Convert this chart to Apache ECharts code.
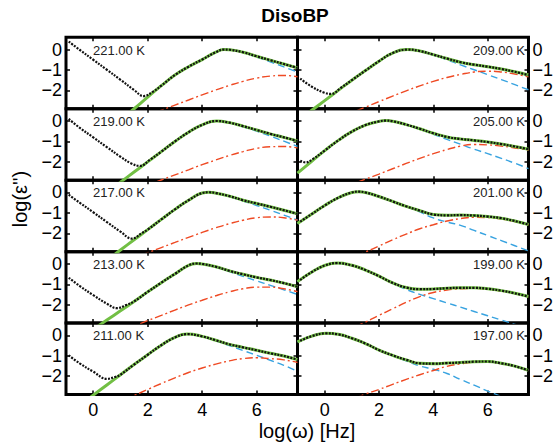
<!DOCTYPE html>
<html><head><meta charset="utf-8">
<script src="https://cdn.jsdelivr.net/npm/echarts@6/dist/echarts.min.js"></script>
<style>html,body{margin:0;padding:0;background:#fff}#c{width:556px;height:447px}</style>
</head><body><div id="c"></div>
<script>
// log(omega) sample positions shared by fit / alpha / beta curves
const X = [-1,-0.5,0,0.5,1,1.5,2,2.5,3,3.5,4,4.5,5,5.5,6,6.5,7,7.5];
const xTicks = [0,2,4,6];
const yTicks = [-2,-1,0];
const temperatures = ['221.00 K','209.00 K','219.00 K','205.00 K','217.00 K','201.00 K','213.00 K','199.00 K','211.00 K','197.00 K'];

// 221 K
const fit221   = [-5.65,-5.1,-4.55,-4.0,-3.45,-2.9,-2.33,-1.77,-1.25,-0.84,-0.49,-0.13,-0.01,-0.13,-0.33,-0.52,-0.71,-0.90];
const alpha221 = [-5.65,-5.1,-4.55,-4.0,-3.45,-2.9,-2.33,-1.77,-1.25,-0.85,-0.5,-0.14,-0.02,-0.15,-0.37,-0.6,-0.85,-1.1];
const beta221  = [-4.72,-4.47,-4.22,-3.97,-3.72,-3.47,-3.22,-2.97,-2.72,-2.47,-2.22,-1.98,-1.76,-1.56,-1.40,-1.30,-1.27,-1.33];
const low221   = [[-0.9,0.39],[-0.5,-0.01],[0,-0.5],[0.5,-0.99],[1.0,-1.48],[1.5,-1.98],[1.85,-2.28],[2.2,-2.06]];
const peak221  = [4.8, 0.0];
// 209 K
const fit209   = [-3.5,-3.0,-2.5,-2.0,-1.5,-1.03,-0.57,-0.17,0.0,-0.07,-0.25,-0.44,-0.62,-0.74,-0.84,-0.95,-1.09,-1.25];
const alpha209 = [-3.5,-3.0,-2.5,-2.0,-1.5,-1.03,-0.57,-0.18,0.0,-0.08,-0.27,-0.5,-0.75,-0.99,-1.23,-1.47,-1.72,-1.97];
const beta209  = [-4.22,-3.94,-3.66,-3.38,-3.1,-2.82,-2.55,-2.28,-2.02,-1.78,-1.56,-1.37,-1.22,-1.1,-1.06,-1.1,-1.2,-1.34];
const low209   = [[-0.9,-1.42],[-0.5,-1.8],[0,-2.12],[0.25,-2.17],[0.6,-1.87]];
const peak209  = [3.05, 0.0];
// 219 K
const fit219   = [-5.0,-4.5,-4.0,-3.5,-3.0,-2.5,-2.0,-1.5,-1.0,-0.55,-0.19,0.0,-0.08,-0.25,-0.44,-0.63,-0.80,-0.98];
const alpha219 = [-5.0,-4.5,-4.0,-3.5,-3.0,-2.5,-2.0,-1.5,-1.0,-0.55,-0.2,0.0,-0.09,-0.28,-0.5,-0.74,-0.99,-1.24];
const beta219  = [-4.64,-4.39,-4.14,-3.89,-3.64,-3.39,-3.14,-2.89,-2.64,-2.39,-2.14,-1.91,-1.69,-1.50,-1.34,-1.26,-1.25,-1.32];
const low219   = [[-0.9,0.1],[-0.5,-0.33],[0,-0.8],[0.5,-1.28],[1.0,-1.75],[1.4,-2.08],[1.72,-2.2],[2.1,-1.88]];
const peak219  = [4.53, 0.0];
// 205 K
const fit205   = [-2.55,-2.0,-1.45,-0.95,-0.52,-0.2,-0.02,-0.01,-0.175,-0.38,-0.6,-0.78,-0.88,-0.95,-1.03,-1.13,-1.25,-1.38];
const alpha205 = [-2.55,-2.0,-1.45,-0.95,-0.52,-0.2,-0.02,-0.01,-0.18,-0.4,-0.65,-0.9,-1.14,-1.38,-1.6,-1.83,-2.07,-2.33];
const beta205  = [-4.1,-3.85,-3.6,-3.35,-3.1,-2.85,-2.6,-2.34,-2.08,-1.83,-1.6,-1.4,-1.23,-1.15,-1.17,-1.23,-1.32,-1.43];
const low205   = [[-0.9,-1.95],[-0.7,-2.03],[-0.45,-1.88]];
const peak205  = [2.25, 0.02];
// 217 K
const fit217   = [-4.82,-4.32,-3.82,-3.32,-2.82,-2.32,-1.82,-1.32,-0.83,-0.38,-0.03,-0.03,-0.18,-0.38,-0.54,-0.70,-0.87,-1.05];
const alpha217 = [-4.82,-4.32,-3.82,-3.32,-2.82,-2.32,-1.82,-1.32,-0.83,-0.39,-0.04,-0.04,-0.2,-0.42,-0.64,-0.87,-1.11,-1.35];
const beta217  = [-4.45,-4.2,-3.95,-3.7,-3.45,-3.2,-2.95,-2.7,-2.45,-2.2,-1.96,-1.73,-1.53,-1.36,-1.24,-1.2,-1.24,-1.36];
const low217   = [[-0.9,-0.11],[-0.5,-0.5],[0,-0.97],[0.5,-1.45],[1.0,-1.92],[1.42,-2.26],[1.8,-1.98]];
const peak217  = [4.25, 0.01];
// 201 K
const fit201   = [-1.52,-1.08,-0.64,-0.26,0.0,0.0,-0.2,-0.44,-0.68,-0.89,-1.08,-1.12,-1.11,-1.13,-1.18,-1.26,-1.40,-1.57];
const alpha201 = [-1.52,-1.08,-0.64,-0.26,0.0,0.0,-0.2,-0.44,-0.69,-0.95,-1.25,-1.45,-1.61,-1.86,-2.11,-2.36,-2.61,-2.86];
const beta201  = [-4.4,-4.1,-3.8,-3.5,-3.2,-2.92,-2.62,-2.32,-2.04,-1.78,-1.58,-1.4,-1.28,-1.22,-1.23,-1.3,-1.43,-1.59];
const low201   = [[-0.9,-1.43]];
const peak201  = [1.25, 0.04];
// 213 K
const fit213   = [-4.1,-3.65,-3.2,-2.75,-2.3,-1.84,-1.37,-0.92,-0.49,-0.07,0.0,-0.14,-0.34,-0.51,-0.66,-0.79,-0.94,-1.12];
const alpha213 = [-4.1,-3.65,-3.2,-2.75,-2.3,-1.84,-1.38,-0.93,-0.5,-0.08,-0.01,-0.16,-0.38,-0.61,-0.83,-1.05,-1.27,-1.5];
const beta213  = [-4.4,-4.13,-3.86,-3.59,-3.32,-3.05,-2.78,-2.52,-2.26,-2.01,-1.78,-1.56,-1.37,-1.22,-1.14,-1.14,-1.22,-1.36];
const low213   = [[-0.9,-0.68],[-0.5,-1.08],[0,-1.53],[0.5,-1.95],[0.87,-2.17],[1.2,-2.02]];
const peak213  = [3.8, 0.02];
// 199 K
const fit199   = [-0.87,-0.42,-0.08,0.03,-0.07,-0.3,-0.6,-0.93,-1.16,-1.24,-1.23,-1.19,-1.17,-1.17,-1.22,-1.31,-1.44,-1.6];
const alpha199 = [-0.87,-0.42,-0.08,0.03,-0.07,-0.3,-0.6,-0.95,-1.25,-1.49,-1.7,-1.91,-2.12,-2.33,-2.54,-2.75,-2.96,-3.17];
const beta199  = [-4.4,-4.05,-3.75,-3.45,-3.15,-2.85,-2.52,-2.2,-1.88,-1.6,-1.4,-1.28,-1.22,-1.2,-1.24,-1.33,-1.45,-1.61];
const low199   = [[-0.9,-0.79]];
const peak199  = [0.45, 0.04];
// 211 K
const fit211   = [-3.93,-3.43,-2.93,-2.43,-1.93,-1.43,-0.95,-0.48,-0.1,0.04,-0.05,-0.24,-0.44,-0.59,-0.73,-0.88,-1.01,-1.19];
const alpha211 = [-3.93,-3.43,-2.93,-2.43,-1.93,-1.43,-0.95,-0.48,-0.11,0.03,-0.06,-0.27,-0.5,-0.74,-0.98,-1.22,-1.47,-1.76];
const beta211  = [-4.45,-4.15,-3.85,-3.55,-3.25,-2.95,-2.65,-2.36,-2.08,-1.82,-1.6,-1.41,-1.25,-1.14,-1.1,-1.14,-1.2,-1.33];
const low211   = [[-0.9,-0.98],[-0.5,-1.37],[0,-1.78],[0.5,-2.13],[0.8,-2.04]];
const peak211  = [3.45, 0.06];
// 197 K
const fit197   = [-0.32,-0.05,0.1,0.05,-0.14,-0.4,-0.72,-0.98,-1.2,-1.37,-1.39,-1.36,-1.33,-1.29,-1.28,-1.37,-1.51,-1.72];
const alpha197 = [-0.32,-0.05,0.1,0.05,-0.14,-0.4,-0.72,-1.0,-1.25,-1.5,-1.66,-1.87,-2.16,-2.44,-2.73,-3.0,-3.3,-3.6];
const beta197  = [-4.3,-3.95,-3.65,-3.4,-3.15,-2.88,-2.65,-2.4,-2.16,-1.93,-1.72,-1.52,-1.4,-1.32,-1.3,-1.38,-1.52,-1.72];
const low197   = [[-0.9,-0.27]];
const peak197  = [0.05, 0.1];

const panels = [
  [fit221,alpha221,beta221,low221,peak221],[fit209,alpha209,beta209,low209,peak209],
  [fit219,alpha219,beta219,low219,peak219],[fit205,alpha205,beta205,low205,peak205],
  [fit217,alpha217,beta217,low217,peak217],[fit201,alpha201,beta201,low201,peak201],
  [fit213,alpha213,beta213,low213,peak213],[fit199,alpha199,beta199,low199,peak199],
  [fit211,alpha211,beta211,low211,peak211],[fit197,alpha197,beta197,low197,peak197]
];

const FONT = '"Liberation Sans", Arial, Helvetica, sans-serif';
const GREEN = '#72bf44', RED = '#ef4a24', BLUE = '#38a3e0';
const colLeft = [66, 297.5], colW = 231.5, top0 = 37.3, rowH = 71.45;
const minus = v => (v < 0 ? '\u2212' + Math.abs(v) : String(v));
const pairs = ys => X.map((x, i) => [x, ys[i]]);
// add the read peak position of a curve to its sampled points
const withPeak = (ys, pk) => pairs(ys).filter(q => Math.abs(q[0] - pk[0]) > 0.12).concat([pk]).sort((a, b) => a[0] - b[0]);

const grid = [], xAxis = [], yAxis = [], series = [], graphic = [];
panels.forEach((p, i) => {
  const row = Math.floor(i / 2), col = i % 2;
  const top = top0 + row * rowH;
  grid.push({left: colLeft[col], top: top, width: colW, height: rowH, show: true,
    borderColor: '#000', borderWidth: 3, backgroundColor: 'rgba(0,0,0,0)', containLabel: false});
  const noLine = {show: false, onZero: false};
  const tickStyle = {show: true, inside: true, length: 4, customValues: xTicks, lineStyle: {color: '#000', width: 1.5}};
  xAxis.push({gridIndex: i, type: 'value', min: -1, max: 7.5, position: 'bottom',
    axisLine: noLine, splitLine: {show: false}, axisTick: tickStyle,
    axisLabel: {show: row === 4, customValues: xTicks, fontSize: 18, color: '#000', margin: 6, fontFamily: FONT, formatter: minus}});
  xAxis.push({gridIndex: i, type: 'value', min: -1, max: 7.5, position: 'top',
    axisLine: noLine, splitLine: {show: false}, axisTick: tickStyle, axisLabel: {show: false}});
  const yTick = {show: true, inside: true, length: 4, customValues: yTicks, lineStyle: {color: '#000', width: 1.5}};
  yAxis.push({gridIndex: i, type: 'value', min: -2.9, max: 0.6, position: 'left',
    axisLine: noLine, splitLine: {show: false}, axisTick: yTick,
    axisLabel: {show: col === 0, customValues: yTicks, fontSize: 18, color: '#000', margin: 4, fontFamily: FONT, formatter: minus}});
  yAxis.push({gridIndex: i, type: 'value', min: -2.9, max: 0.6, position: 'right',
    axisLine: noLine, splitLine: {show: false}, axisTick: yTick,
    axisLabel: {show: col === 1, customValues: yTicks, fontSize: 18, color: '#000', margin: 4, fontFamily: FONT, formatter: minus}});

  const [fit, alpha, beta, low, peak] = p;
  const fitPts = withPeak(fit, peak);
  const alphaPts = withPeak(alpha, [peak[0], peak[1] - 0.01]);
  const lastLow = low[low.length - 1][0];
  const black = low.concat(fitPts.filter(q => q[0] > lastLow + 0.15));
  const base = {type: 'line', xAxisIndex: 2 * i, yAxisIndex: 2 * i, showSymbol: false, silent: true,
    smooth: 0.5, clip: true, animation: false};
  series.push(Object.assign({}, base, {data: alphaPts, z: 2,
    lineStyle: {color: BLUE, width: 1.4, type: [7, 4]}}));
  series.push(Object.assign({}, base, {data: pairs(beta), z: 3,
    lineStyle: {color: RED, width: 1.4, type: [8, 3, 2, 3]}}));
  series.push(Object.assign({}, base, {data: fitPts, z: 4,
    lineStyle: {color: GREEN, width: 3}}));
  series.push(Object.assign({}, base, {data: black, z: 5, smooth: 0.4,
    lineStyle: {color: '#111', width: 2.2, type: [2, 1.3], cap: 'butt'}}));

  graphic.push({type: 'text', z: 100,
    x: col === 0 ? 93 : 525, y: top + 12.7,
    style: {text: temperatures[i], fill: '#222', font: '13px ' + FONT,
      textAlign: col === 0 ? 'left' : 'right', textVerticalAlign: 'middle',
      align: col === 0 ? 'left' : 'right', verticalAlign: 'middle'}});
});

graphic.push({type: 'text', z: 100, x: 295, y: 15.5,
  style: {text: 'DisoBP', fill: '#000', font: 'bold 19px ' + FONT,
    textAlign: 'center', textVerticalAlign: 'middle', align: 'center', verticalAlign: 'middle'}});
graphic.push({type: 'text', z: 100, x: 307, y: 431,
  style: {text: 'log(\u03c9) [Hz]', fill: '#000', font: '20px ' + FONT,
    textAlign: 'center', textVerticalAlign: 'middle', align: 'center', verticalAlign: 'middle'}});
graphic.push({type: 'text', z: 100, x: 20, y: 199, rotation: Math.PI / 2,
  style: {text: "log(\u03b5'')", fill: '#000', font: '20px ' + FONT,
    textAlign: 'center', textVerticalAlign: 'middle', align: 'center', verticalAlign: 'middle'}});

const chart = echarts.init(document.getElementById('c'), null, {renderer: 'svg', width: 556, height: 447});
chart.setOption({animation: false, backgroundColor: '#fff', grid, xAxis, yAxis, series, graphic});
</script>
</body></html>
